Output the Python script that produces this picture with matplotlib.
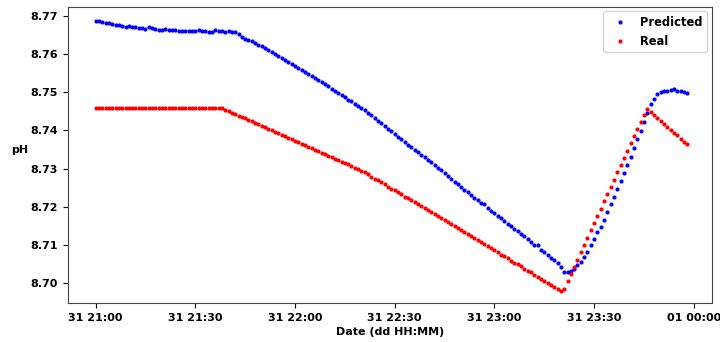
import matplotlib
matplotlib.use("Agg")
import matplotlib.pyplot as plt
import matplotlib.dates as mdates
import pandas as pd

# one sample per minute, 31 21:00 -> 01 00:00 (approx.)
start_time = "2020-12-31 21:00"

predicted = [
    8.7688, 8.7688, 8.7684, 8.7681, 8.7681, 8.7679, 8.7677, 8.7676, 8.7675, 8.7672,
    8.7674, 8.7671, 8.7670, 8.7668, 8.7668, 8.7666, 8.7670, 8.7669, 8.7665, 8.7663,
    8.7664, 8.7666, 8.7664, 8.7663, 8.7663, 8.7662, 8.7662, 8.7662, 8.7661, 8.7660,
    8.7661, 8.7663, 8.7661, 8.7661, 8.7659, 8.7658, 8.7663, 8.7661, 8.7661, 8.7658,
    8.7660, 8.7658, 8.7657, 8.7652, 8.7646, 8.7641, 8.7636, 8.7634, 8.7629, 8.7625,
    8.7621, 8.7616, 8.7611, 8.7605, 8.7600, 8.7595, 8.7590, 8.7585, 8.7580, 8.7574,
    8.7569, 8.7564, 8.7559, 8.7554, 8.7548, 8.7543, 8.7537, 8.7532, 8.7527, 8.7521,
    8.7516, 8.7510, 8.7504, 8.7499, 8.7493, 8.7487, 8.7481, 8.7476, 8.7470, 8.7464,
    8.7458, 8.7453, 8.7447, 8.7440, 8.7433, 8.7426, 8.7419, 8.7412, 8.7405, 8.7398,
    8.7391, 8.7384, 8.7377, 8.7370, 8.7363, 8.7357, 8.7350, 8.7343, 8.7337, 8.7330,
    8.7323, 8.7317, 8.7310, 8.7303, 8.7296, 8.7289, 8.7281, 8.7274, 8.7266, 8.7259,
    8.7252, 8.7245, 8.7238, 8.7231, 8.7224, 8.7217, 8.7210, 8.7207, 8.7197, 8.7190,
    8.7183, 8.7176, 8.7170, 8.7163, 8.7156, 8.7149, 8.7143, 8.7136, 8.7129, 8.7123,
    8.7116, 8.7109, 8.7100, 8.7099, 8.7088, 8.7081, 8.7074, 8.7067, 8.7060, 8.7052,
    8.7043, 8.7030, 8.7028, 8.7032, 8.7038, 8.7047, 8.7056, 8.7069, 8.7082, 8.7100,
    8.7117, 8.7135, 8.7148, 8.7165, 8.7187, 8.7207, 8.7227, 8.7248, 8.7268, 8.7289,
    8.7309, 8.7330, 8.7353, 8.7378, 8.7398, 8.7422, 8.7446, 8.7469, 8.7483, 8.7495,
    8.7500, 8.7503, 8.7503, 8.7505, 8.7509, 8.7504, 8.7503, 8.7500, 8.7497,
]

real = [
    8.7458, 8.7458, 8.7458, 8.7458, 8.7458, 8.7458, 8.7458, 8.7458, 8.7458, 8.7458,
    8.7458, 8.7458, 8.7458, 8.7458, 8.7458, 8.7458, 8.7458, 8.7458, 8.7458, 8.7458,
    8.7458, 8.7458, 8.7458, 8.7458, 8.7458, 8.7458, 8.7458, 8.7458, 8.7458, 8.7458,
    8.7458, 8.7458, 8.7458, 8.7458, 8.7458, 8.7458, 8.7458, 8.7458, 8.7458, 8.7455,
    8.7451, 8.7447, 8.7443, 8.7439, 8.7435, 8.7432, 8.7428, 8.7424, 8.7420, 8.7416,
    8.7412, 8.7408, 8.7404, 8.7400, 8.7396, 8.7393, 8.7389, 8.7385, 8.7381, 8.7377,
    8.7373, 8.7369, 8.7365, 8.7361, 8.7357, 8.7354, 8.7350, 8.7346, 8.7342, 8.7338,
    8.7334, 8.7330, 8.7326, 8.7322, 8.7318, 8.7315, 8.7311, 8.7307, 8.7303, 8.7299,
    8.7295, 8.7290, 8.7285, 8.7279, 8.7274, 8.7269, 8.7264, 8.7259, 8.7253, 8.7248,
    8.7243, 8.7238, 8.7233, 8.7227, 8.7222, 8.7217, 8.7212, 8.7207, 8.7201, 8.7196,
    8.7191, 8.7186, 8.7181, 8.7175, 8.7170, 8.7165, 8.7160, 8.7155, 8.7149, 8.7144,
    8.7139, 8.7134, 8.7128, 8.7123, 8.7118, 8.7112, 8.7107, 8.7102, 8.7097, 8.7091,
    8.7086, 8.7081, 8.7075, 8.7070, 8.7065, 8.7059, 8.7054, 8.7049, 8.7044, 8.7038,
    8.7033, 8.7028, 8.7022, 8.7017, 8.7012, 8.7006, 8.7001, 8.6996, 8.6991, 8.6985,
    8.6980, 8.6986, 8.7005, 8.7024, 8.7043, 8.7062, 8.7081, 8.7100, 8.7119, 8.7138,
    8.7157, 8.7176, 8.7195, 8.7214, 8.7233, 8.7252, 8.7271, 8.7290, 8.7309, 8.7328,
    8.7347, 8.7366, 8.7385, 8.7404, 8.7423, 8.7441, 8.7456, 8.7448, 8.7440, 8.7432,
    8.7425, 8.7417, 8.7410, 8.7402, 8.7394, 8.7387, 8.7379, 8.7371, 8.7364,
]

times = pd.date_range(start_time, periods=len(real), freq="min")

fig = plt.figure(figsize=(7.2, 3.42), dpi=100)
ax = fig.add_axes([0.094, 0.114, 0.895, 0.866])

ax.plot(times, predicted, "o", color="blue", markersize=2.0, label="Predicted")
ax.plot(times, real, "o", color="red", markersize=2.0, label="Real")

ax.set_ylim(8.6948, 8.7724)
ax.set_xlim(times[0] - pd.Timedelta(minutes=8.4), times[0] + pd.Timedelta(minutes=185.5))

ax.xaxis.set_major_locator(mdates.MinuteLocator(byminute=[0, 30]))
ax.xaxis.set_major_formatter(mdates.DateFormatter("%d %H:%M"))
ax.set_yticks([8.70, 8.71, 8.72, 8.73, 8.74, 8.75, 8.76, 8.77])
ax.yaxis.set_major_formatter(plt.FormatStrFormatter("%.2f"))

for lab in ax.get_xticklabels() + ax.get_yticklabels():
    lab.set_fontweight("bold")
    lab.set_fontsize(8)

ax.set_xlabel("Date (dd HH:MM)", fontsize=8, fontweight="bold", labelpad=3)
ax.set_ylabel("pH", fontsize=8, fontweight="bold", rotation=0, labelpad=8)

for sp in ax.spines.values():
    sp.set_color("#444444")

ax.legend(loc="upper right", prop={"weight": "bold", "size": 8.3}, borderaxespad=0.4)

plt.savefig("out.png", dpi=100)
